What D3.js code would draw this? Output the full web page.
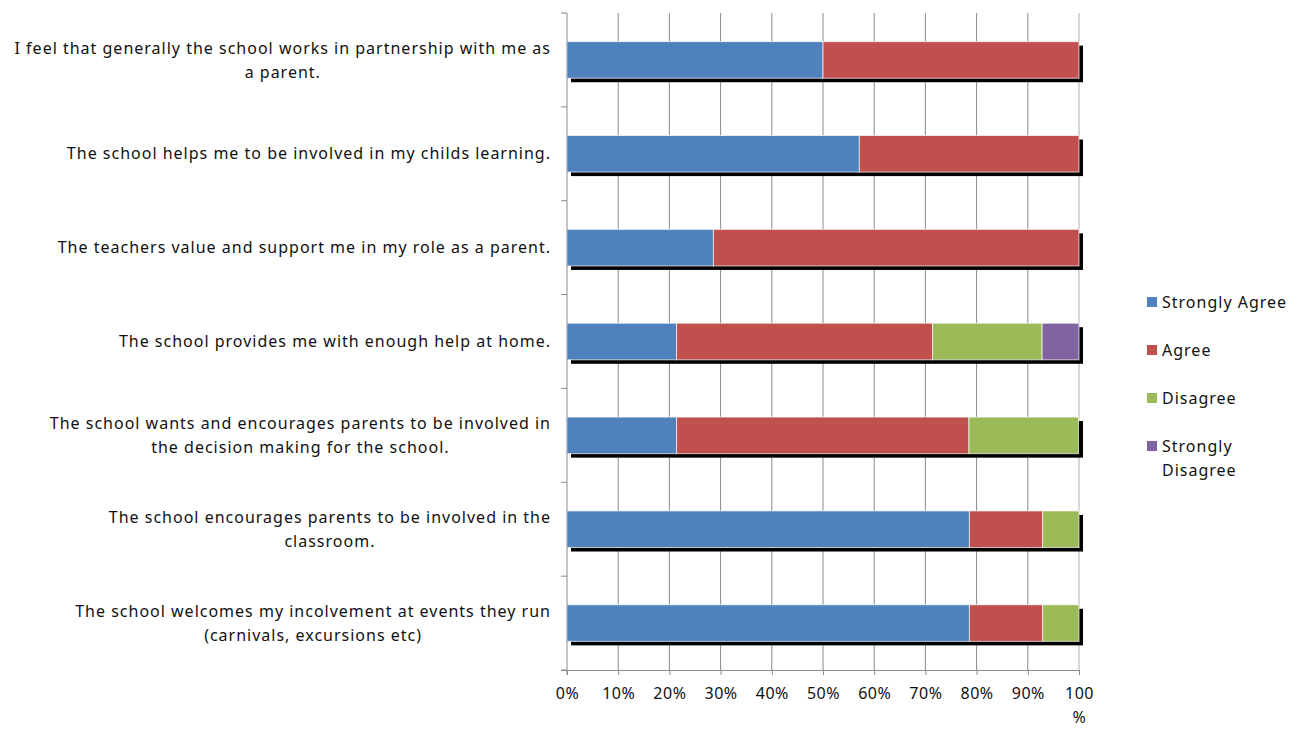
<!DOCTYPE html>
<html>
<head>
<meta charset="utf-8">
<script src="https://cdn.jsdelivr.net/npm/d3@7"></script>
<style>
  body { margin: 0; background: #fff; }
  text { font-family: "Noto Sans", "Open Sans", sans-serif; fill: #111; }
</style>
</head>
<body>
<div id="chart"></div>
<script>
const width = 1305, height = 731;
const margin = {top: 13, left: 567, right: 226, bottom: 61};

// questions, top to bottom, already split the way the picture wraps them
const questions = [
  ["I feel that generally the school works in partnership with me as", "a parent."],
  ["The school helps me to be involved in my childs learning."],
  ["The teachers value and support me in my role as a parent."],
  ["The school provides me with enough help at home."],
  ["The school wants and encourages parents to be involved in", "the decision making for the school."],
  ["The school encourages parents to be involved in the", "classroom."],
  ["The school welcomes my incolvement at events they run", "(carnivals, excursions etc)"]
];
const seriesNames = ["Strongly Agree", "Agree", "Disagree", "Strongly Disagree"];
const seriesColors = ["#4f81bd", "#c0504d", "#9bbb59", "#8064a2"];

// percentages per question, one array per series
const stronglyAgree    = [50.0, 57.1, 28.6, 21.4, 21.4, 78.6, 78.6];
const agree            = [50.0, 42.9, 71.4, 50.0, 57.1, 14.3, 14.3];
const disagree         = [0,    0,    0,    21.4, 21.4, 7.1,  7.1];
const stronglyDisagree = [0,    0,    0,    7.2,  0,    0,    0];

const xTicks = d3.range(0, 101, 10);

const rows = questions.map((q, i) => ({
  id: i,
  lines: q,
  values: [stronglyAgree[i], agree[i], disagree[i], stronglyDisagree[i]]
}));

const svg = d3.select("#chart").append("svg")
  .attr("width", width)
  .attr("height", height);

const x = d3.scaleLinear()
  .domain([0, 100])
  .range([margin.left, width - margin.right]);

const y = d3.scaleBand()
  .domain(rows.map(d => d.id))
  .range([margin.top, height - margin.bottom])
  .paddingInner(0.61)
  .paddingOuter(0.305);

const y0 = margin.top, y1 = height - margin.bottom;

// vertical gridlines
svg.append("g")
  .selectAll("line")
  .data(xTicks.filter(d => d > 0))
  .join("line")
    .attr("x1", d => x(d)).attr("x2", d => x(d))
    .attr("y1", y0).attr("y2", y1)
    .attr("stroke", d => d == 100 ? "#b0b0b0" : "#8a8a8a")
    .attr("stroke-width", 1);

// stacked segments
const stack = d3.stack()
  .keys([0, 1, 2, 3])
  .value((d, k) => d.values[k]);
const stacked = stack(rows);

// drop shadow behind each bar
const shadowOff = 4;
svg.append("g")
  .selectAll("rect")
  .data(rows)
  .join("rect")
    .attr("x", x(0) + shadowOff)
    .attr("y", d => y(d.id) + shadowOff)
    .attr("width", x(100) - x(0))
    .attr("height", y.bandwidth())
    .attr("fill", "#000");

svg.append("g")
  .selectAll("g")
  .data(stacked)
  .join("g")
    .attr("fill", (s, i) => seriesColors[i])
  .selectAll("rect")
  .data(s => s.filter(d => d[1] - d[0] > 0))
  .join("rect")
    .attr("x", d => x(d[0]))
    .attr("y", d => y(d.data.id))
    .attr("width", d => x(d[1]) - x(d[0]))
    .attr("height", y.bandwidth())
    .attr("stroke", "#fff")
    .attr("stroke-opacity", 0.7)
    .attr("stroke-width", 1);

// left axis line with ticks at band boundaries
const axisColor = "#8a8a8a";
svg.append("line")
  .attr("x1", x(0)).attr("x2", x(0))
  .attr("y1", y0).attr("y2", y1 + 5)
  .attr("stroke", axisColor);
const step = (y1 - y0) / rows.length;
svg.append("g")
  .selectAll("line")
  .data(d3.range(rows.length + 1))
  .join("line")
    .attr("x1", x(0) - 6).attr("x2", x(0))
    .attr("y1", i => y0 + i * step).attr("y2", i => y0 + i * step)
    .attr("stroke", axisColor);

// bottom axis
const xAxis = d3.axisBottom(x)
  .tickValues(xTicks)
  .tickSize(5)
  .tickFormat(d => d + "%");
const gx = svg.append("g")
  .attr("transform", `translate(0,${y1})`)
  .call(xAxis);
gx.select(".domain").attr("stroke", axisColor).attr("d", `M${x(0) - 6},0.5H${x(100)}`);
gx.selectAll(".tick line").attr("stroke", axisColor);
gx.selectAll(".tick text")
  .attr("y", 18)
  .attr("font-size", 16)
  .attr("font-family", "Noto Sans, sans-serif")
  .attr("fill", "#111")
  .style("letter-spacing", "0.5px")
  .each(function(d) {
    if (d == 100) {
      const t = d3.select(this).text("");
      t.append("tspan").attr("x", 0).attr("dy", "0.71em").text("100");
      t.append("tspan").attr("x", 0).attr("dy", 24).text("%");
    }
  });

// question labels: block right-aligned at 551, lines centred inside the block
const lineH = 24;
const labelRight = 551;
const labels = svg.append("g")
  .selectAll("text")
  .data(rows)
  .join("text")
    .attr("text-anchor", "middle")
    .attr("font-size", 16)
    .style("letter-spacing", "1px");
labels.selectAll("tspan")
  .data(d => d.lines.map((l, j) => ({l, j, n: d.lines.length})))
  .join("tspan")
    .attr("x", 0)
    .attr("y", d => (d.j - (d.n - 1) / 2) * lineH)
    .attr("dy", "0.35em")
    .text(d => d.l);
labels.each(function(d) {
  let maxW = 0;
  d3.select(this).selectAll("tspan").each(function() {
    maxW = Math.max(maxW, this.getComputedTextLength());
  });
  d3.select(this).attr("transform", `translate(${labelRight - maxW / 2},${y(d.id) + y.bandwidth() / 2})`);
});

// legend
const legendLines = [["Strongly Agree"], ["Agree"], ["Disagree"], ["Strongly", "Disagree"]];
const legend = svg.append("g")
  .selectAll("g")
  .data(seriesNames)
  .join("g")
    .attr("transform", (d, i) => `translate(1147,${302 + i * 48})`);
legend.append("rect")
  .attr("x", 0).attr("y", -5)
  .attr("width", 10).attr("height", 10)
  .attr("fill", (d, i) => seriesColors[i]);
legend.append("text")
  .attr("font-size", 16)
  .style("letter-spacing", "1px")
  .selectAll("tspan")
  .data((d, i) => legendLines[i])
  .join("tspan")
    .attr("x", 15)
    .attr("y", (l, j) => j * 24)
    .attr("dy", "0.35em")
    .text(l => l);
</script>
</body>
</html>
